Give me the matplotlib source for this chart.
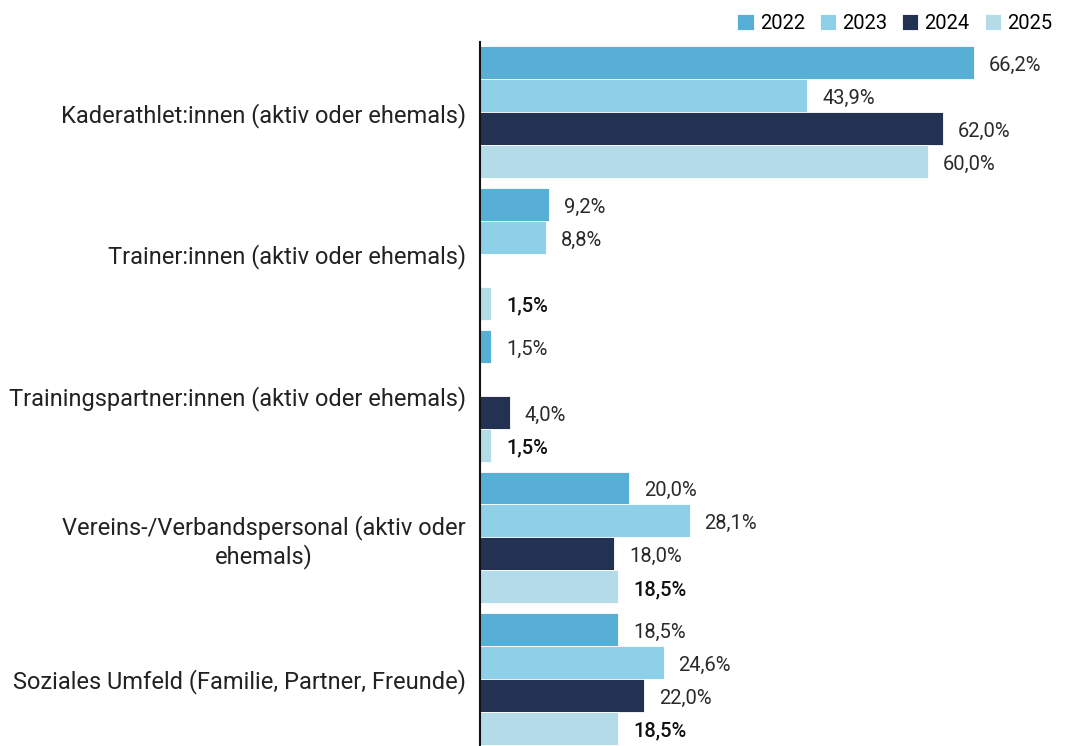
import numpy as np
import matplotlib.pyplot as plt

plt.rcParams['font.family'] = ['Roboto', 'DejaVu Sans']

categories = [
    "Kaderathlet:innen (aktiv oder ehemals)",
    "Trainer:innen (aktiv oder ehemals)",
    "Trainingspartner:innen (aktiv oder ehemals)",
    "Vereins-/Verbandspersonal (aktiv oder\nehemals)",
    "Soziales Umfeld (Familie, Partner, Freunde)",
]
years = ["2022", "2023", "2024", "2025"]
v2022 = [66.2, 9.2, 1.5, 20.0, 18.5]
v2023 = [43.9, 8.8, np.nan, 28.1, 24.6]
v2024 = [62.0, np.nan, 4.0, 18.0, 22.0]
v2025 = [60.0, 1.5, 1.5, 18.5, 18.5]
series = [v2022, v2023, v2024, v2025]
colors = ["#58afd6", "#8dd0e8", "#233253", "#b4dbe8"]

fig = plt.figure(figsize=(10.66, 7.46), dpi=100)
ax = fig.add_axes([480 / 1066, 0, 1 - 480 / 1066, 1 - 42 / 746])

h = 33 / 142
y = np.arange(len(categories))
for j, (vals, col, yr) in enumerate(zip(series, colors, years)):
    pos = y + (j - 1.5) * h
    vals = np.array(vals, dtype=float)
    ax.barh(pos, vals, height=h, color=col, edgecolor="white", linewidth=0.6, label=yr)
    for p, v, i in zip(pos, vals, y):
        if np.isnan(v):
            continue
        bold = (j == 3 and i > 0)
        ax.text(v + 2.0, p + 0.02, f"{v:.1f}%".replace(".", ","), va="center", ha="left",
                fontsize=14.5, color="#111111" if bold else "#2a2a2a",
                fontweight="medium" if bold else "normal")

ax.set_xlim(0, 586 / 7.46)
ax.set_ylim(4.472, -0.496)
ax.set_yticks(y)
ax.set_yticklabels(categories, fontsize=17, color="#222222", multialignment="center")
ax.tick_params(axis="y", length=0, pad=10)
ax.set_xticks([])
for s in ["top", "right", "bottom"]:
    ax.spines[s].set_visible(False)
ax.spines["left"].set_linewidth(1.5)
ax.spines["left"].set_color("#111111")

fig.legend(loc="upper right", bbox_to_anchor=(1.0, 1.0), ncol=4, frameon=False,
           fontsize=14.5, handlelength=0.8, handleheight=0.8, handletextpad=0.3,
           columnspacing=0.75, borderaxespad=0.3)

fig.savefig("out.png", dpi=100)
